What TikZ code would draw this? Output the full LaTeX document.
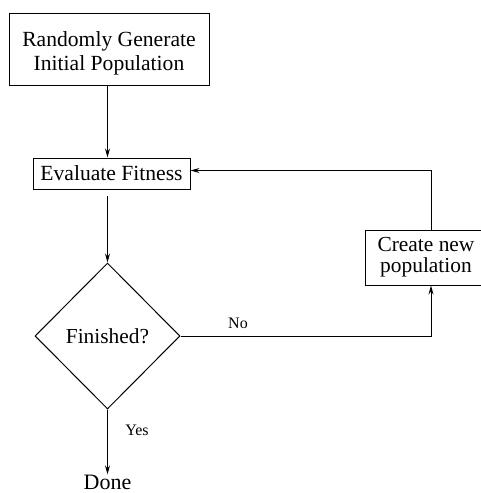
\documentclass[tikz,border=0pt]{standalone}
\usepackage{fontspec}
\setmainfont{Liberation Serif}
\usetikzlibrary{shapes.geometric,arrows.meta}
\tikzset{
  flowbox/.style={draw, rectangle, line width=1pt, inner sep=0pt, align=center,
    font=\fontsize{21.6}{24}\selectfont},
  decision/.style={draw, diamond, aspect=1, line width=1pt, inner sep=0pt,
    minimum width=145pt, minimum height=146pt, font=\fontsize{21.4}{24}\selectfont},
  flowarrow/.style={line width=1pt, -{Stealth[length=9pt,width=5pt,inset=3pt]}},
  branchlabel/.style={inner sep=0pt, font=\fontsize{16}{18}\selectfont},
}
\begin{document}
\begin{tikzpicture}[x=1pt, y=-1pt]
  \useasboundingbox (0,0) rectangle (481,493);
  \clip (0,0) rectangle (481,493);

  % process steps
  \node[flowbox, minimum width=200pt, minimum height=72pt] (init) at (109,49)
    {\raisebox{-4pt}[\height][\depth]{\shortstack{Randomly Generate\\[1pt]Initial Population}}};
  \node[flowbox, minimum width=157pt, minimum height=31pt] (eval) at (111.5,173.5) {Evaluate Fitness};
  \node[decision] (decide) at (107.5,336) {Finished?};
  \node[flowbox, minimum width=122pt, minimum height=55pt, font=\fontsize{21.4}{21}\selectfont]
    (create) at (426,257.5) {Create new\\population};
  \node[inner sep=0pt, anchor=base, font=\fontsize{22}{24}\selectfont] (done) at (107.5,489) {Done};

  % branch labels
  \node[branchlabel] (nolabel) at (238,323) {No};
  \node[branchlabel] (yeslabel) at (137,430) {Yes};

  % loop corner positions
  \coordinate (loopx) at (431,0);

  % connectors
  \draw[flowarrow] (init.south -| decide.north) -- (eval.north -| decide.north);
  \draw[flowarrow, shorten <=6pt] (eval.south -| decide.north) -- (decide.north);
  \draw[flowarrow] (decide.south) -- (done.north);
  \draw[flowarrow] (decide.east) -| (create.south -| loopx);
  \draw[flowarrow] (create.north -| loopx) |- ([yshift=3pt]eval.east);
\end{tikzpicture}
\end{document}
